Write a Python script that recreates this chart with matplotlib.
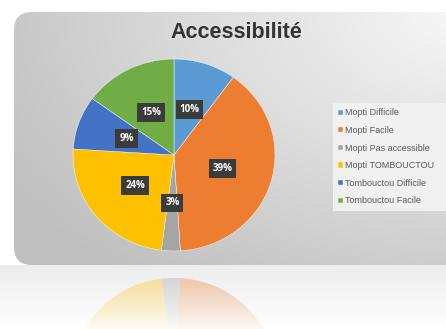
import numpy as np
import matplotlib.pyplot as plt
from matplotlib.patches import FancyBboxPatch

# data
labels = ['Mopti Difficile', 'Mopti Facile', 'Mopti Pas accessible',
          'Mopti TOMBOUCTOU', 'Tombouctou Difficile', 'Tombouctou Facile']
values = [10, 39, 3, 24, 9, 15]
colors = ['#5B9BD5', '#ED7D31', '#A5A5A5', '#FFC000', '#4472C4', '#70AD47']
title = 'Accessibilité'

W, H = 446, 329
fig = plt.figure(figsize=(W / 100, H / 100), dpi=100)
fig.patch.set_facecolor('white')

# background axes in pixel coords
bg = fig.add_axes([0, 0, 1, 1])
bg.set_xlim(0, W)
bg.set_ylim(H, 0)
bg.axis('off')


def floor_shade(p):
    # gray level of the floor under the card at pixel row p
    return np.clip(0.93 + 0.07 * (p - 265) / 64, 0.93, 1.0)


rows = np.linspace(265, H, 64)
floor = np.ones((64, 2, 4))
floor[..., :3] = floor_shade(rows)[:, None, None]
bg.imshow(floor, extent=(0, W, H, 265), aspect='auto', zorder=0)

# card with gradient
card = FancyBboxPatch((14, 12), 450, 253, boxstyle='round,pad=0,rounding_size=18',
                      facecolor='none', edgecolor='none', zorder=1)
bg.add_patch(card)
gx, gy = np.meshgrid(np.linspace(0, 1, 200), np.linspace(0, 1, 120))
d = np.sqrt(((1 - gx) * 1.0) ** 2 + (gy * 0.9) ** 2)
shade = 0.97 - 0.22 * np.clip(d / 1.2, 0, 1)
img = np.dstack([shade, shade, shade])
im = bg.imshow(img, extent=(14, 464, 265, 12), aspect='auto', zorder=1)
im.set_clip_path(card)

# pie
cx, cy, rx, ry = 174, 155, 101, 96
ax = fig.add_axes([(cx - rx) / W, (H - cy - ry) / H, 2 * rx / W, 2 * ry / H])
wedges, texts, autotexts = ax.pie(values, colors=colors, startangle=90, counterclock=False,
                                  autopct='%1.0f%%', pctdistance=0.5,
                                  wedgeprops=dict(edgecolor='white', linewidth=0.3))
ax.set_aspect('auto')
ax.set_xlim(-1, 1)
ax.set_ylim(-1, 1)
for t in autotexts:
    t.set_color('white')
    t.set_fontweight('bold')
    t.set_fontsize(7)
    t.set_family('Open Sans')
    t.set_bbox(dict(boxstyle='square,pad=0.4', facecolor='#3b3b3b', edgecolor='none'))

# reflection (mirrored pie, faded towards the bottom)
rcy = 374
rax = fig.add_axes([(cx - rx) / W, (H - rcy - ry) / H, 2 * rx / W, 2 * ry / H])
rax.pie(values, colors=colors, startangle=90, counterclock=False,
        wedgeprops=dict(edgecolor='none', alpha=0.55))
rax.set_aspect('auto')
fy = np.linspace(-1, 1, 200)
fade = np.ones((200, 2, 4))
fade[:, :, :3] = floor_shade(rcy + ry * fy)[:, None, None]
fade[:, :, 3] = np.clip(0.35 + 0.65 * (fy + 1) / 0.6, 0, 1)[:, None]
rax.imshow(fade, extent=(-1.2, 1.2, 1, -1), aspect='auto', zorder=5, origin='upper')
rax.set_xlim(-1, 1)
rax.set_ylim(1, -1)
rax.patch.set_visible(False)

# title
fig.text(236 / W, 1 - 33 / H, title, ha='center', va='center', fontsize=15.5,
         fontweight='bold', color='#333333', family='Liberation Sans')

# legend
leg = fig.legend(wedges, labels, loc='upper left',
                 bbox_to_anchor=(333 / W, 1 - 103 / H, 120 / W, 0), mode='expand',
                 borderaxespad=0,
                 handlelength=0.5, handleheight=0.5, handletextpad=0.2,
                 labelspacing=0.95, frameon=True, fancybox=False,
                 borderpad=0.6,
                 prop={'family': 'Liberation Sans', 'size': 6.5})
leg.get_frame().set_facecolor('#f3f3f3')
leg.get_frame().set_edgecolor('none')
leg.get_frame().set_alpha(0.9)
for t in leg.get_texts():
    t.set_color('#595959')

fig.savefig('out.png', dpi=100)
